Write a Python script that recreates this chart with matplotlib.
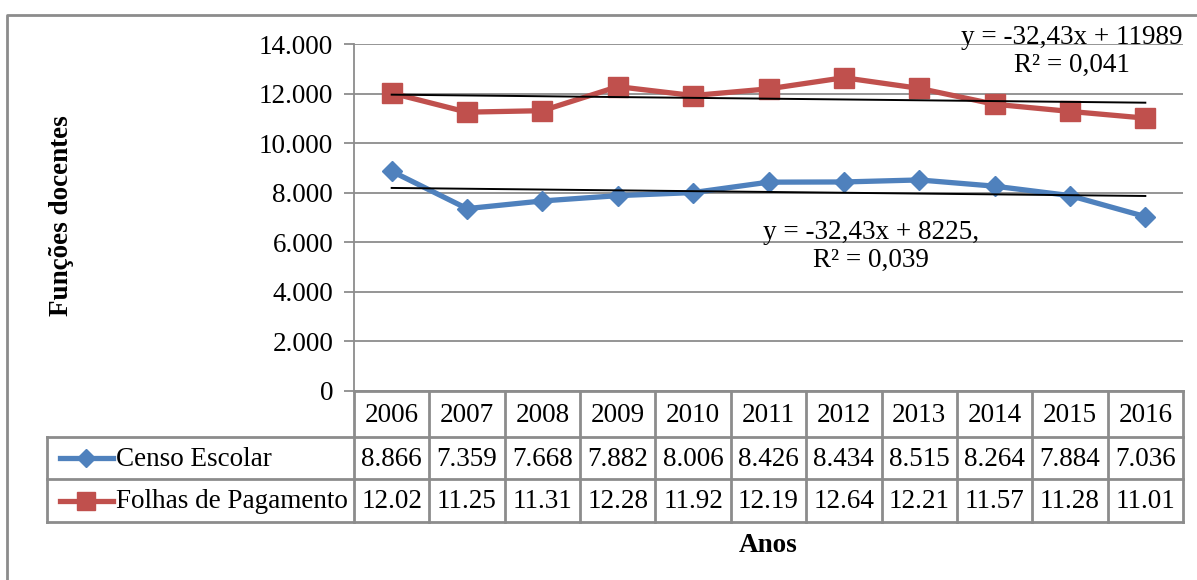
import numpy as np
import matplotlib
matplotlib.use("Agg")
import matplotlib.pyplot as plt

# ---- data ----
years = ["2006", "2007", "2008", "2009", "2010", "2011", "2012", "2013", "2014", "2015", "2016"]
censo = [8866, 7359, 7668, 7882, 8006, 8426, 8434, 8515, 8264, 7884, 7036]
folhas = [12020, 11250, 11310, 12280, 11920, 12190, 12640, 12210, 11570, 11280, 11010]
series_names = ["Censo Escolar", "Folhas de Pagamento"]
trend_slope = [-32.43, -32.43]
trend_intercept = [8225, 11989]
trend_labels = ["y = -32,43x + 8225,\nR² = 0,039", "y = -32,43x + 11989\nR² = 0,041"]
yticks = [0, 2000, 4000, 6000, 8000, 10000, 12000, 14000]

plt.rcParams['font.family'] = ['Liberation Serif', 'DejaVu Serif']
W, H = 1197, 580
fig = plt.figure(figsize=(W / 100, H / 100), dpi=100)

BLUE = "#4F81BD"
RED = "#C0504D"
GRAY = "#8C8C8C"
FS = 19.5

def fx(px):
    return px / W

def fy(py):
    return 1 - py / H

# plot area
x_left, x_right, y_top, y_bot = 354, 1183, 44, 391
ax = fig.add_axes([fx(x_left), fy(y_bot), fx(x_right) - fx(x_left), fy(y_top) - fy(y_bot)])
n = len(years)
xs = np.arange(1, n + 1)
ax.set_xlim(0.5, n + 0.5)
ax.set_ylim(0, 14000)
ax.set_yticks(yticks)
ax.set_yticklabels([f"{v:,}".replace(",", ".") for v in yticks], fontsize=FS)
ax.set_xticks([])
for s in ["top", "right", "bottom"]:
    ax.spines[s].set_visible(False)
ax.spines["left"].set_color(GRAY)
ax.spines["left"].set_linewidth(1.3)
ax.tick_params(axis="y", length=7, width=1.3, color=GRAY, pad=8)
ax.grid(axis="y", color=GRAY, linewidth=1.3)
ax.set_axisbelow(True)

ax.plot(xs, censo, color=BLUE, lw=3.8, marker="D", ms=10.5, mec=BLUE, zorder=3)
ax.plot(xs, folhas, color=RED, lw=3.8, marker="s", ms=14, mec=RED, zorder=3)

xt = np.array([1, n])
for k in range(2):
    ax.plot(xt, trend_slope[k] * xt + trend_intercept[k], color="black", lw=1.4, zorder=4)

ax.text(7.36, 5830, trend_labels[0], ha="center", va="center", fontsize=FS,
        linespacing=1.12, multialignment="center", zorder=5)
ax.text(10.02, 13697, trend_labels[1], ha="center", va="center", fontsize=FS,
        linespacing=1.12, multialignment="center", zorder=5, clip_on=False)

# overlay for table and frame
ov = fig.add_axes([0, 0, 1, 1], facecolor="none")
ov.set_xlim(0, W)
ov.set_ylim(H, 0)
ov.axis("off")

# chart frame (left and top visible)
ov.plot([7, 7, W + 5], [H + 5, 15, 15], color=GRAY, lw=2, clip_on=False)

col_w = (x_right - x_left) / n
rows_y = [391, 437, 479, 522]
tab_left = 47
tlw = 2
ov.plot([x_left, x_right], [rows_y[0], rows_y[0]], color=GRAY, lw=tlw)
for yy in rows_y[1:]:
    ov.plot([tab_left, x_right], [yy, yy], color=GRAY, lw=tlw)
ov.plot([tab_left, tab_left], [rows_y[1], rows_y[3]], color=GRAY, lw=tlw)
for i in range(n + 1):
    xv = x_left + i * col_w
    ov.plot([xv, xv], [rows_y[0], rows_y[3]], color=GRAY, lw=tlw)

for i in range(n):
    cx = x_left + (i + 0.5) * col_w
    ov.text(cx, (rows_y[0] + rows_y[1]) / 2 + 1, years[i], ha="center", va="center", fontsize=FS)
    ov.text(cx, (rows_y[1] + rows_y[2]) / 2 + 1, f"{censo[i]:,}".replace(",", "."), ha="center", va="center", fontsize=FS)
    ov.text(cx, (rows_y[2] + rows_y[3]) / 2 + 1, f"{folhas[i] / 1000:.2f}", ha="center", va="center", fontsize=FS)

for r, (col, mk, ms) in enumerate([(BLUE, "D", 9.5), (RED, "s", 13)]):
    yc = (rows_y[r + 1] + rows_y[r + 2]) / 2
    ov.plot([60, 113], [yc, yc], color=col, lw=3.8)
    ov.plot([86], [yc], marker=mk, ms=ms, color=col, mec=col)
    ov.text(116, yc + 1, series_names[r], ha="left", va="center", fontsize=FS)

ov.text(768, 545, "Anos", ha="center", va="center", fontsize=FS, fontweight="bold")
ov.text(61, 216, "Funções docentes", ha="center", va="center", fontsize=FS, fontweight="bold", rotation=90)

fig.savefig("out.png", dpi=100)
